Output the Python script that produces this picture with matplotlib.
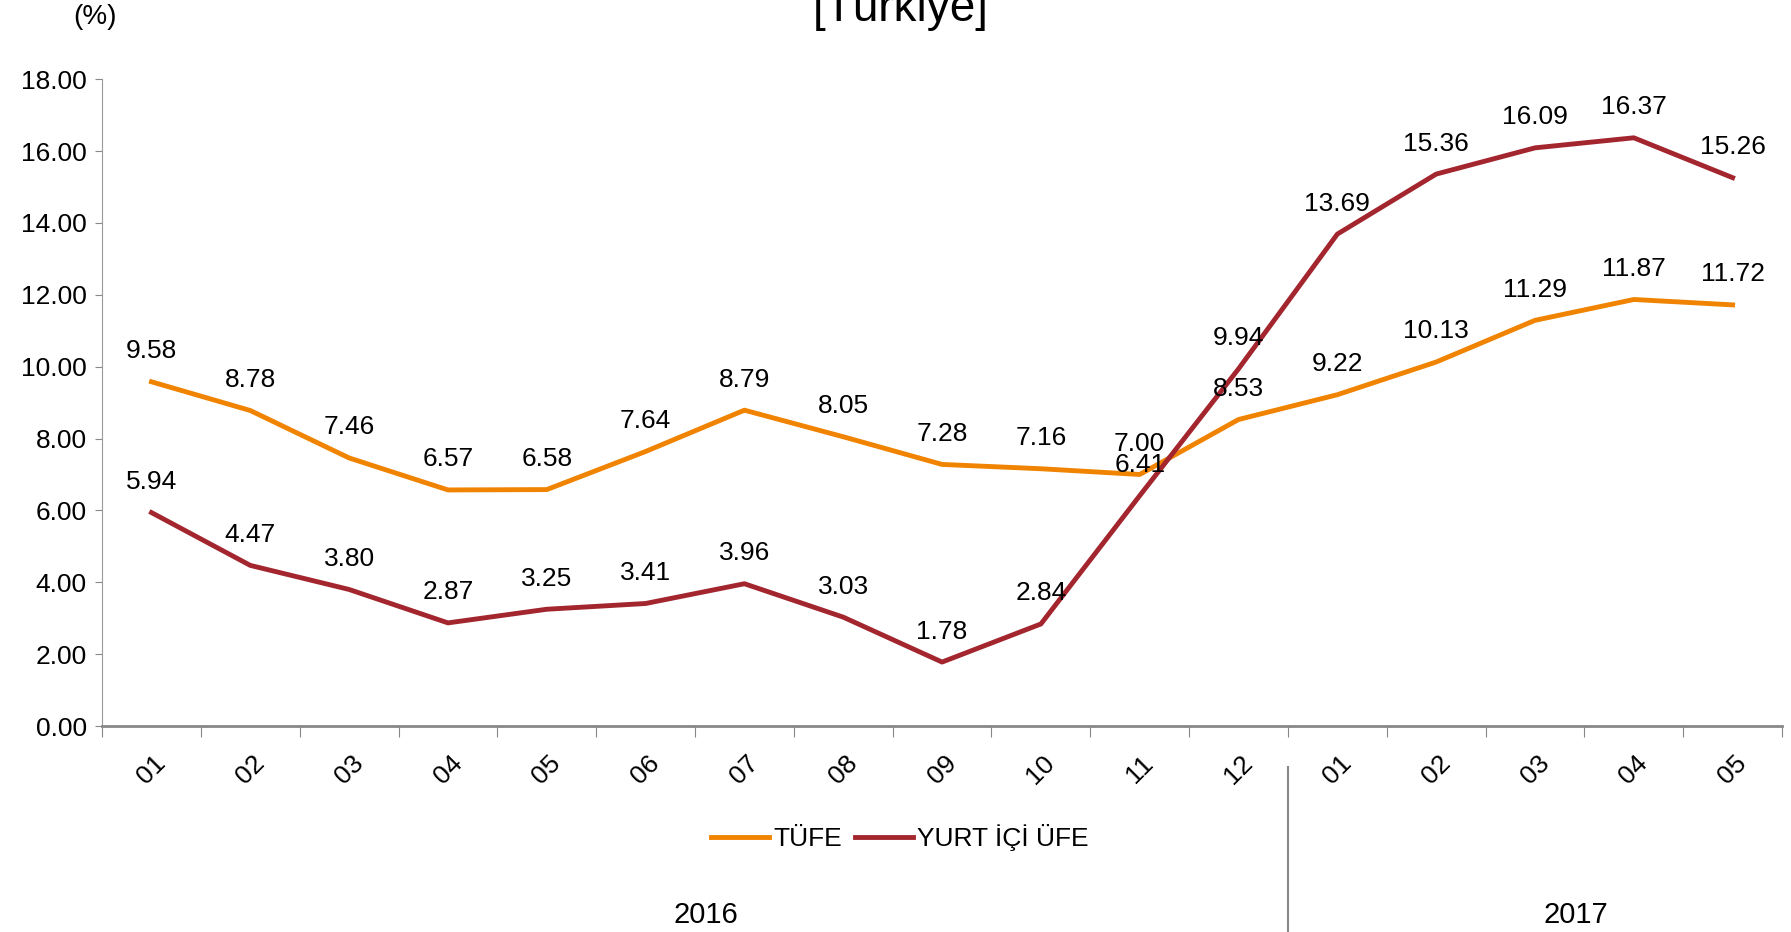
import matplotlib
matplotlib.use("Agg")
import matplotlib.pyplot as plt

plt.rcParams['font.family'] = ['Liberation Sans', 'DejaVu Sans']

months = ["01", "02", "03", "04", "05", "06", "07", "08", "09", "10", "11", "12",
          "01", "02", "03", "04", "05"]
years = ["2016", "2017"]
tufe = [9.58, 8.78, 7.46, 6.57, 6.58, 7.64, 8.79, 8.05, 7.28, 7.16, 7.00, 8.53,
        9.22, 10.13, 11.29, 11.87, 11.72]
ufe = [5.94, 4.47, 3.80, 2.87, 3.25, 3.41, 3.96, 3.03, 1.78, 2.84, 6.41, 9.94,
       13.69, 15.36, 16.09, 16.37, 15.26]

c_tufe = "#F08300"
c_ufe = "#A3262F"

fig = plt.figure(figsize=(17.91, 9.32), dpi=100)
ax = fig.add_axes([0.057, 0.221, 0.938, 0.694])

x = list(range(len(months)))
ax.plot(x, tufe, color=c_tufe, lw=3.5, label="TÜFE")
ax.plot(x, ufe, color=c_ufe, lw=3.5, label="YURT İÇİ ÜFE")

for xi, v in zip(x, tufe):
    ax.annotate(f"{v:.2f}", (xi, v), xytext=(0, 22), textcoords="offset points",
                ha="center", va="center", fontsize=19)
for xi, v in zip(x, ufe):
    ax.annotate(f"{v:.2f}", (xi, v), xytext=(0, 22), textcoords="offset points",
                ha="center", va="center", fontsize=19)

ax.set_xlim(-0.5, len(months) - 0.5)
ax.set_ylim(0, 18)
ax.set_yticks(range(0, 19, 2))
ax.set_yticklabels([f"{v:.2f}" for v in range(0, 19, 2)], fontsize=19)

ax.set_xticks([i - 0.5 for i in range(len(months) + 1)])
ax.set_xticklabels([])
ax.set_xticks(x, minor=True)
ax.set_xticklabels(months, minor=True, rotation=45, fontsize=19)
ax.tick_params(axis="x", which="minor", length=0, pad=18)
ax.tick_params(axis="x", which="major", length=8, color="#888888", direction="out")
ax.tick_params(axis="y", length=5, color="#888888", direction="out", pad=6)

for s in ["top", "right"]:
    ax.spines[s].set_visible(False)
ax.spines["left"].set_color("#999999")
ax.spines["left"].set_linewidth(0.8)
ax.spines["bottom"].set_color("#888888")
ax.spines["bottom"].set_linewidth(2)

# year separator and labels
sep_x = fig.transFigure.inverted().transform(ax.transData.transform((11.5, 0)))[0]
fig.add_artist(plt.Line2D([sep_x, sep_x], [0, 0.177], color="#888888", lw=1.5,
                          transform=fig.transFigure))
fig.text(0.394, 0.018, years[0], ha="center", va="center", fontsize=21)
fig.text(0.880, 0.018, years[1], ha="center", va="center", fontsize=21)

ax.legend(loc="center", bbox_to_anchor=(0.475, -0.173), ncol=2, frameon=False,
          fontsize=19, handlelength=2.2, handletextpad=0.15, columnspacing=0.5)

fig.text(0.503, 0.99, "[Türkiye]", ha="center", va="center", fontsize=33)
fig.text(0.053, 0.982, "(%)", ha="center", va="center", fontsize=20)

fig.savefig("out.png", dpi=100)
